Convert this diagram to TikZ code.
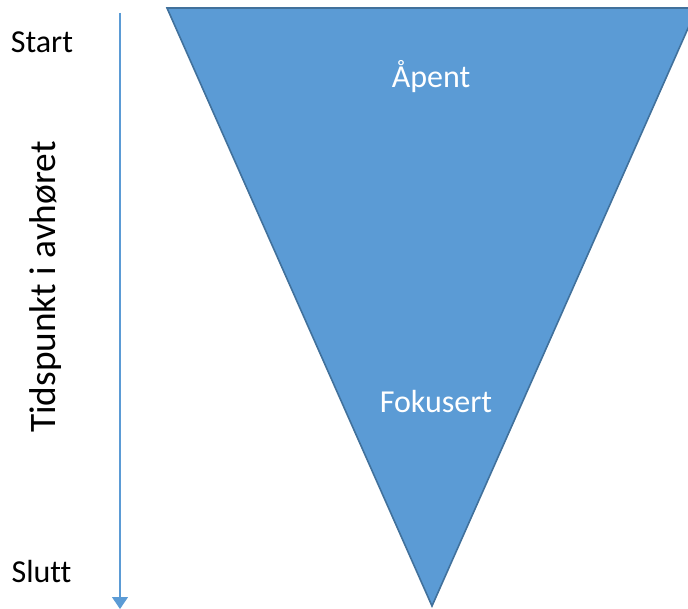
\documentclass[tikz,border=0pt]{standalone}
\usepackage{fontspec}
\setmainfont{Carlito}[Ligatures=NoCommon]
\usepackage{tikz}
\usetikzlibrary{arrows.meta}

\definecolor{funnelfill}{RGB}{91,155,213}
\definecolor{funneldraw}{RGB}{65,113,156}

\tikzset{
  lbl/.style={anchor=base,inner sep=0.75pt,font=\fontsize{24}{28}\selectfont},
  funnellbl/.style={lbl,text=white},
}

\begin{document}
\begin{tikzpicture}[x=0.75pt,y=0.75pt,yscale=-1,xscale=1]
        \useasboundingbox (0,0) rectangle (688,609);
        \clip (0,0) rectangle (688,609);

        %Shape: Triangle
        \draw  [fill=funnelfill ,draw=funneldraw ,line width=1.2pt ] (167,8) -- (697,8) -- (432,606) -- cycle ;

        %Straight Lines (time axis)
        \coordinate (axisTop) at (120,13);
        \coordinate (axisEnd) at (120,609);
        \draw [color=funnelfill ,line width=0.9pt ,-{Triangle[width=12pt,length=9pt]}]    (axisTop) -- (axisEnd) ;

        % Text Node
        \node (start) [lbl] at (42,53) {Start};
        % Text Node
        \node (slutt) [lbl] at (41.5,582) {Slutt};
        % Text Node
        \node (tid) [anchor=base ,inner sep=0.75pt ,rotate=90 ,font=\fontsize{28}{33}\selectfont] at (55,287) {Tidspunkt i avhøret};
        % Text Node
        \node (apent) [funnellbl] at (431,88) {Åpent};
        % Text Node
        \node (fokusert) [funnellbl] at (436,412) {Fokusert};

    \end{tikzpicture}
\end{document}
